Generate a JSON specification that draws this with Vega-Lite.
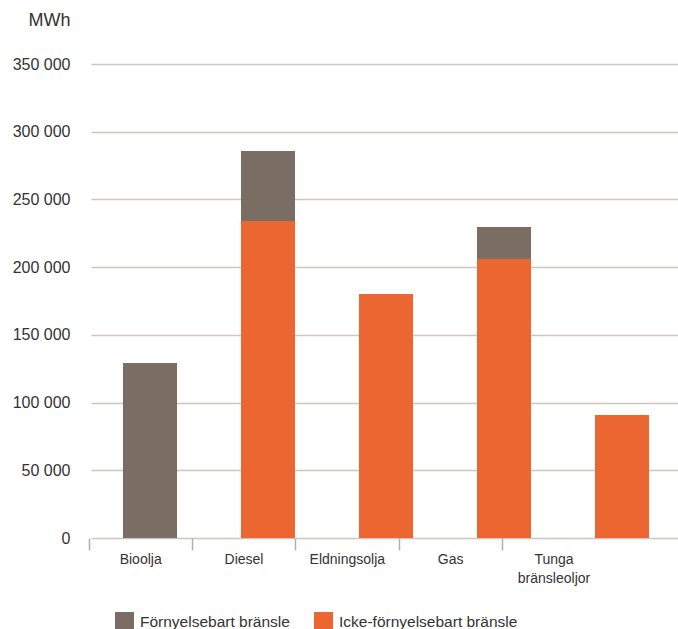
{
  "$schema": "https://vega.github.io/schema/vega-lite/v6.json",
  "autosize": "none",
  "padding": {"left": 91, "top": 64, "right": 0, "bottom": 91},
  "width": 587,
  "height": 474,
  "background": "white",
  "config": {
    "view": {"stroke": null},
    "font": "Liberation Sans",
    "axis": {"labelColor": "#333333", "titleColor": "#333333", "labelFont": "Liberation Sans", "titleFont": "Liberation Sans"},
    "legend": {"labelFont": "Liberation Sans"}
  },
  "data": {
    "values": [
      {"fuel": "Bioolja", "type": "Förnyelsebart bränsle", "value": 129300},
      {"fuel": "Diesel", "type": "Icke-förnyelsebart bränsle", "value": 234000},
      {"fuel": "Diesel", "type": "Förnyelsebart bränsle", "value": 51700},
      {"fuel": "Eldningsolja", "type": "Icke-förnyelsebart bränsle", "value": 180200},
      {"fuel": "Gas", "type": "Icke-förnyelsebart bränsle", "value": 206000},
      {"fuel": "Gas", "type": "Förnyelsebart bränsle", "value": 23600},
      {"fuel": "Tunga bränsleoljor", "type": "Icke-förnyelsebart bränsle", "value": 90800}
    ]
  },
  "resolve": {"scale": {"x": "independent"}, "axis": {"x": "independent"}},
  "layer": [
    {
      "mark": {"type": "bar"},
      "encoding": {
        "x": {
          "field": "fuel",
          "type": "nominal",
          "sort": ["Bioolja", "Diesel", "Eldningsolja", "Gas", "Tunga bränsleoljor"],
          "scale": {"range": [0, 590], "paddingInner": 0.542, "paddingOuter": 0.271},
          "axis": null
        },
        "y": {
          "field": "value",
          "type": "quantitative",
          "stack": "zero",
          "scale": {"domain": [0, 350000], "nice": false},
          "axis": {
            "values": [0, 50000, 100000, 150000, 200000, 250000, 300000, 350000],
            "labelExpr": "replace(format(datum.value, ','), ',', ' ')",
            "labelFontSize": 16,
            "labelPadding": 21,
            "ticks": false,
            "domain": false,
            "grid": true,
            "gridColor": "#cdc6c0",
            "gridWidth": 1.5,
            "title": "MWh",
            "titleAngle": 0,
            "titleFontSize": 18,
            "titleFontWeight": "normal",
            "titleAlign": "right",
            "titleBaseline": "middle",
            "titleX": -21,
            "titleY": -44
          }
        },
        "color": {
          "field": "type",
          "type": "nominal",
          "scale": {"domain": ["Förnyelsebart bränsle", "Icke-förnyelsebart bränsle"], "range": ["#7a6e64", "#eb6631"]},
          "legend": {
            "title": null,
            "orient": "none",
            "direction": "horizontal",
            "legendX": 24,
            "legendY": 548,
            "padding": 0,
            "symbolType": "square",
            "symbolSize": 361,
            "symbolStrokeWidth": 0,
            "symbolOpacity": 1,
            "labelFontSize": 15.5,
            "labelColor": "#333333",
            "labelOffset": 6,
            "labelLimit": 400,
            "columnPadding": 24
          }
        },
        "order": {"field": "type", "sort": "descending"}
      }
    },
    {
      "mark": {"type": "bar", "opacity": 0},
      "encoding": {
        "x": {
          "field": "fuel",
          "type": "nominal",
          "scale": {"domain": ["Bioolja", "Diesel", "Eldningsolja", "Gas", "Tunga bränsleoljor", " "], "range": [-2, 618], "padding": 0},
          "axis": {
            "title": null,
            "domain": false,
            "values": ["Bioolja", "Diesel", "Eldningsolja", "Gas", "Tunga bränsleoljor"],
            "bandPosition": 0,
            "labelAngle": 0,
            "labelExpr": "split(datum.label, ' ')",
            "labelFontSize": 14,
            "labelLineHeight": 19,
            "labelPadding": 2,
            "labelBaseline": "top",
            "tickSize": 12,
            "tickColor": "#b5ada6",
            "tickWidth": 1.5,
            "grid": false
          }
        }
      }
    }
  ]
}
